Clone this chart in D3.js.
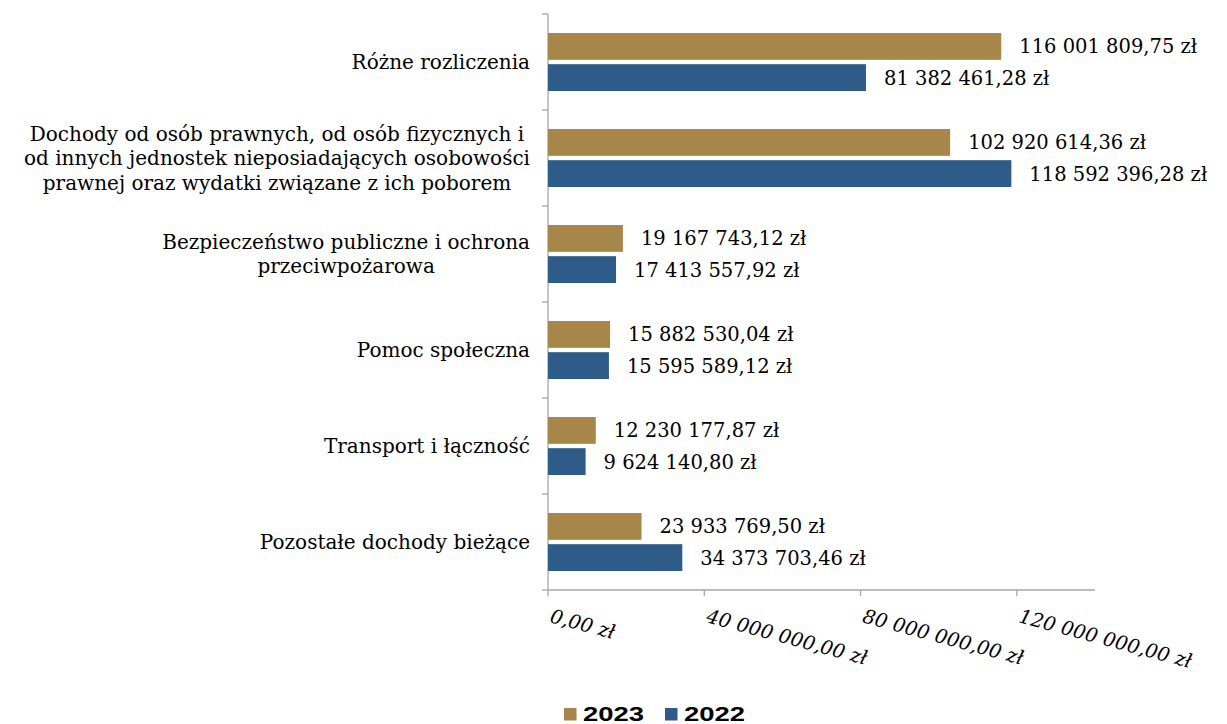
<!DOCTYPE html>
<html><head><meta charset="utf-8">
<script src="https://cdn.jsdelivr.net/npm/d3@7"></script>
<style>body{margin:0;background:#fff}svg{display:block}</style>
</head><body>
<svg id="c" width="1227" height="724"></svg>
<script>
const categories = [
  "Różne rozliczenia",
  "Dochody od osób prawnych, od osób fizycznych i\nod innych jednostek nieposiadających osobowości\nprawnej oraz wydatki związane z ich poborem",
  "Bezpieczeństwo publiczne i ochrona\nprzeciwpożarowa",
  "Pomoc społeczna",
  "Transport i łączność",
  "Pozostałe dochody bieżące"
];
const seriesNames = ["2023", "2022"];
const values2023 = [116001809.75, 102920614.36, 19167743.12, 15882530.04, 12230177.87, 23933769.50];
const values2022 = [81382461.28, 118592396.28, 17413557.92, 15595589.12, 9624140.80, 34373703.46];
const tickValues = [0, 40000000, 80000000, 120000000];
const colors = ["#A6864A", "#2E5B87"];

(function () {
const locale = d3.formatLocale({decimal: ",", thousands: " ", grouping: [3], currency: ["", " zł"]});
const fmt = v => locale.format(",.2f")(v) + " zł";

const svg = d3.select("#c");
const pLeft = 548, pRight = 1095, pTop = 14, pBottom = 590;
const x = d3.scaleLinear().domain([0, 140000000]).range([pLeft, pRight]);
const y = d3.scaleBand().domain(categories.map((d, i) => i)).range([pTop, pBottom]);
const inner = d3.scaleBand().domain([0, 1]).range([19, 77]).paddingInner(0.14);
const serif = "'DejaVu Serif', serif";
const fs = 19.5;

svg.append("line").attr("x1", pLeft).attr("x2", pLeft).attr("y1", pTop).attr("y2", pBottom).attr("stroke", "#A6A6A6").attr("stroke-width", 1.3);
svg.append("line").attr("x1", pLeft).attr("x2", pRight).attr("y1", pBottom).attr("y2", pBottom).attr("stroke", "#A6A6A6").attr("stroke-width", 1.3);
d3.range(categories.length + 1).forEach(i => {
  const yy = i < categories.length ? y(i) : pBottom;
  svg.append("line").attr("x1", pLeft - 6).attr("x2", pLeft).attr("y1", yy).attr("y2", yy).attr("stroke", "#A6A6A6").attr("stroke-width", 1.3);
});
tickValues.forEach(t => {
  svg.append("line").attr("x1", x(t)).attr("x2", x(t)).attr("y1", pBottom).attr("y2", pBottom + 6).attr("stroke", "#A6A6A6").attr("stroke-width", 1.3);
  svg.append("text").attr("transform", `translate(${x(t) + 1},${pBottom + 32}) rotate(15)`)
    .attr("font-family", serif).attr("font-style", "italic").attr("font-size", fs).attr("fill", "#000")
    .text(fmt(t));
});

const series = [values2023, values2022];
categories.forEach((c, i) => {
  series.forEach((vals, s) => {
    const by = y(i) + inner(s);
    const h = inner.bandwidth();
    svg.append("rect").attr("x", x(0)).attr("y", by).attr("width", x(vals[i]) - x(0)).attr("height", h).attr("fill", colors[s]);
    svg.append("text").attr("x", x(vals[i]) + 18).attr("y", by + h / 2).attr("dy", "0.36em")
      .attr("font-family", serif).attr("font-size", fs).attr("fill", "#000").text(fmt(vals[i]));
  });
  const lines = c.split("\n");
  const g = svg.append("g");
  const lh = 24.5;
  const cy = y(i) + y.bandwidth() / 2;
  const texts = lines.map((ln, k) => g.append("text")
    .attr("y", cy + (k - (lines.length - 1) / 2) * lh).attr("dy", "0.36em")
    .attr("text-anchor", "middle").attr("font-family", serif).attr("font-size", 20).attr("fill", "#000").text(ln));
  const maxW = d3.max(texts, t => t.node().getComputedTextLength());
  texts.forEach(t => t.attr("x", 530 - maxW / 2));
});

const lg = svg.append("g");
let lx = 564;
seriesNames.forEach((n, s) => {
  lg.append("rect").attr("x", lx).attr("y", 708).attr("width", 12.5).attr("height", 12.5).attr("fill", colors[s]);
  lg.append("text").attr("x", lx + 19).attr("y", 721).attr("font-family", "'Liberation Sans', Arial, sans-serif")
    .attr("font-weight", "bold").attr("font-size", 19.5).attr("textLength", 61).attr("lengthAdjust", "spacingAndGlyphs")
    .attr("fill", "#000").text(n);
  lx += 101;
});
})();
</script>
</body></html>
